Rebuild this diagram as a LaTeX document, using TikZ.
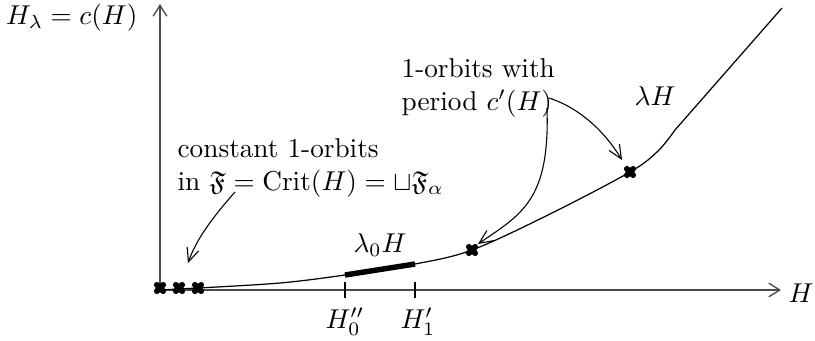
\documentclass[tikz,border=0pt]{standalone}
\usepackage{amsmath,amssymb}
\usetikzlibrary{arrows.meta,calc}
\begin{document}
\begin{tikzpicture}[x=0.0129cm,y=-0.0129cm,
  axis/.style={draw=black!70,line width=0.5pt,-{Straight Barb[length=4pt,width=5pt]}},
  curve/.style={draw=black,line width=0.45pt},
  thickseg/.style={draw=black,line width=2pt},
  annot/.style={draw=black,line width=0.4pt,-{Straight Barb[length=5pt,width=4.5pt]}},
  tick/.style={draw=black,line width=0.5pt},
  xmark/.style={line width=2.1pt,line cap=round}]
\useasboundingbox (0,0) rectangle (815,341);
% axes
\coordinate (O) at (160,290);
\coordinate (ytop) at (160,4);
\coordinate (xend) at (781,290);
\draw[axis] (O) -- (ytop);
\draw[axis] (O) -- (xend);
\node[anchor=west] (xlab) at (779,293) {$H$};
\node[anchor=east] (ylab) at (147,18) {$H_\lambda=c(H)$};
% curve
\coordinate (c0) at (198,288);
\coordinate (a) at (345,275);
\coordinate (b) at (415,264);
\coordinate (p1) at (472,250);
\coordinate (p2) at (630,172);
\draw[curve] (O) -- (c0);
\draw[curve] plot[smooth,tension=0.55] coordinates {(198,288) (280,283) (345,275) (415,264) (472,250) (550,214) (630,172) (658,151) (675,130)} -- (782,8);
\draw[thickseg] (a) -- (b);
% ticks
\draw[tick] (345,282) -- (345,298);
\draw[tick] (415,282) -- (415,298);
\node (l0) at (345,322) {$H_0''$};
\node (l1) at (418,322) {$H_1'$};
\node (lam0) at (380,245) {$\lambda_0H$};
\node (lam) at (655,96) {$\lambda H$};
% crosses
\foreach \n/\x/\y in {x1/160/288,x2/179/288,x3/198/288,x4/472/250,x5/630/172}{
  \coordinate (\n) at (\x,\y);
  \draw[xmark] ($(\n)+(-3.2,-3.2)$) -- ($(\n)+(3.2,3.2)$);
  \draw[xmark] ($(\n)+(-3.2,3.2)$) -- ($(\n)+(3.2,-3.2)$);
}
% labels
\node[align=left,anchor=west] (const) at (168,168) {constant 1-orbits\\in $\mathfrak{F}=\mathrm{Crit}(H)=\sqcup\mathfrak{F}_\alpha$};
\node[align=left,anchor=west] (per) at (392,88) {1-orbits with\\period $c'(H)$};
% annotation arrows
\coordinate (s1) at (235,192);
\coordinate (e1) at (188,263);
\draw[annot] (s1) .. controls (212,218) and (196,240) .. (e1);
\coordinate (s2) at (547,108);
\coordinate (e2) at (478,244);
\draw[annot] (s2) .. controls (550,200) and (522,214) .. (e2);
\coordinate (s3) at (549,98);
\coordinate (e3) at (622,160);
\draw[annot] (s3) .. controls (580,108) and (605,132) .. (e3);
\end{tikzpicture}
\end{document}
